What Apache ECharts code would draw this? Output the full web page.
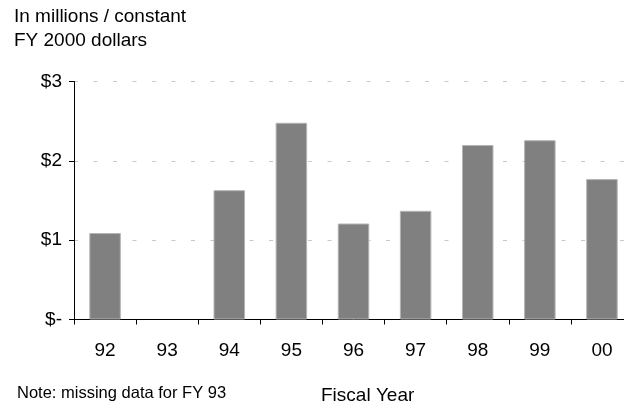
<!DOCTYPE html>
<html>
<head>
<meta charset="utf-8">
<script src="https://cdn.jsdelivr.net/npm/echarts@6/dist/echarts.min.js"></script>
<style>
  html, body { margin: 0; padding: 0; background: #fff; overflow: hidden; }
  /* the plot runs slightly past the right edge of the window, so the canvas is wider than the view */
  #chart { width: 660px; height: 404px; }
</style>
</head>
<body>
<div id="chart"></div>
<script>
// Fiscal years shown on the category axis
const fiscalYears = ['92', '93', '94', '95', '96', '97', '98', '99', '00'];
// Spending in millions of constant FY 2000 dollars (FY 93 has no data)
const spending = [1.09, null, 1.63, 2.48, 1.21, 1.37, 2.20, 2.26, 1.77];
// Value-axis tick labels, indexed by dollar amount
const yTickLabels = ['$-', '$1', '$2', '$3'];

const FONT = '"Liberation Sans", Arial, Helvetica, sans-serif';

const chart = echarts.init(document.getElementById('chart'), null, { renderer: 'canvas' });

chart.setOption({
  animation: false,
  backgroundColor: '#ffffff',
  textStyle: { fontFamily: FONT },
  grid: { left: 74, top: 81.5, width: 559, height: 238, containLabel: false },
  xAxis: {
    type: 'category',
    data: fiscalYears,
    boundaryGap: true,
    axisLine: { show: true, lineStyle: { color: '#000', width: 1 } },
    axisTick: { show: true, alignWithLabel: false, length: 5, lineStyle: { color: '#000' } },
    axisLabel: { color: '#000', fontSize: 19, fontFamily: FONT, margin: 21.5 },
    splitLine: { show: false }
  },
  yAxis: {
    type: 'value',
    min: 0,
    max: 3,
    interval: 1,
    axisLine: { show: true, lineStyle: { color: '#000', width: 1 } },
    axisTick: { show: true, length: 5, lineStyle: { color: '#000' } },
    axisLabel: {
      color: '#000',
      fontSize: 19,
      fontFamily: FONT,
      margin: 12,
      formatter: v => yTickLabels[Math.round(v)]
    },
    splitLine: {
      show: true,
      lineStyle: { color: '#c8c8c8', width: 1, type: [4, 15.5] }
    }
  },
  series: [{
    type: 'bar',
    data: spending,
    barWidth: 31.5,
    itemStyle: { color: '#808080', borderColor: '#b4b4b4', borderWidth: 1 }
  }],
  graphic: [
    { type: 'text', left: 14, top: 7, style: { text: 'In millions / constant', fontSize: 19, fontFamily: FONT, fill: '#000' } },
    { type: 'text', left: 14, top: 31, style: { text: 'FY 2000 dollars', fontSize: 19, fontFamily: FONT, fill: '#000' } },
    { type: 'text', left: 17, top: 384.5, style: { text: 'Note: missing data for FY 93', fontSize: 16.5, fontFamily: FONT, fill: '#000' } },
    { type: 'text', left: 321, top: 386, style: { text: 'Fiscal Year', fontSize: 19, fontFamily: FONT, fill: '#000' } }
  ]
});
</script>
</body>
</html>
